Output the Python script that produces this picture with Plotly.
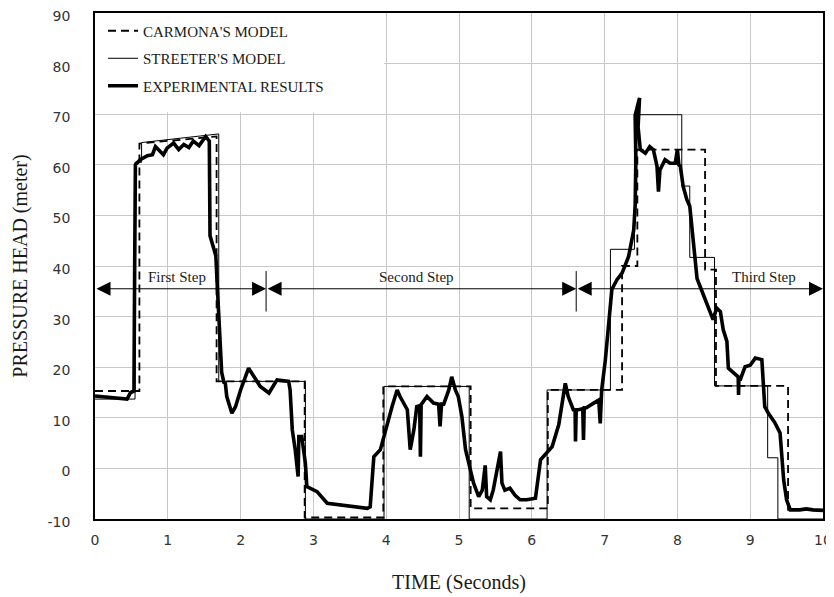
import plotly.graph_objects as go

# ---------------- data ----------------
carmona_t = [0.00, 0.61, 0.61, 1.67, 1.67, 2.88, 2.88, 3.96, 3.96, 5.16, 5.16, 6.22, 6.22,
             7.24, 7.24, 7.45, 7.45, 8.38, 8.38, 8.53, 8.53, 9.52, 9.52, 10.0]
carmona_h = [15.3, 15.3, 64.2, 65.6, 17.2, 17.2, -9.7, -9.7, 16.2, 16.2, -7.9, -7.9, 15.5,
             15.5, 40.0, 40.0, 63.0, 63.0, 39.3, 39.3, 16.3, 16.3, -8.2, -8.2]

streeter_t = [0.00, 0.55, 0.55, 0.64, 0.64, 1.70, 1.70, 2.89, 2.89, 3.97, 3.97, 5.14, 5.14,
              6.21, 6.21, 7.08, 7.08, 7.41, 7.41, 8.06, 8.06, 8.17, 8.17, 8.51, 8.51,
              9.24, 9.24, 9.38, 9.38, 10.0]
streeter_h = [13.7, 13.7, 60.5, 60.5, 64.4, 66.1, 17.2, 17.2, -10.0, -10.0, 16.2, 16.2, -10.0,
              -10.0, 15.5, 15.5, 43.3, 43.3, 69.9, 69.9, 55.8, 55.8, 41.7, 41.7, 16.3,
              16.3, 2.1, 2.1, -10.0, -10.0]

exp_t = [0.00, 0.20, 0.44, 0.49, 0.535, 0.545, 0.555, 0.62, 0.72, 0.79, 0.83, 0.90, 0.94,
         0.99, 1.08, 1.15, 1.22, 1.29, 1.35, 1.43, 1.52, 1.57, 1.58, 1.62, 1.66, 1.68,
         1.70, 1.72, 1.74, 1.77, 1.79, 1.81, 1.88, 1.93, 2.00, 2.11, 2.18, 2.27, 2.39,
         2.50, 2.66, 2.68, 2.71, 2.75, 2.79, 2.80, 2.84, 2.89, 2.91, 3.05, 3.19, 3.37,
         3.60, 3.74, 3.78, 3.80, 3.83, 3.92, 3.99, 4.08, 4.15, 4.19, 4.29, 4.33, 4.38,
         4.42, 4.46, 4.47, 4.48, 4.56, 4.65, 4.72, 4.74, 4.76, 4.79, 4.86, 4.90, 4.95,
         4.99, 5.04, 5.09, 5.15, 5.20, 5.27, 5.32, 5.36, 5.38, 5.43, 5.47, 5.57, 5.59,
         5.63, 5.70, 5.77, 5.84, 5.93, 6.05, 6.12, 6.18, 6.28, 6.37, 6.44, 6.46, 6.50,
         6.57, 6.595, 6.60, 6.61, 6.64, 6.70, 6.71, 6.72, 6.75, 6.85, 6.92, 6.94, 6.96,
         7.01, 7.05, 7.10, 7.17, 7.24, 7.33, 7.40, 7.42, 7.43, 7.42, 7.48, 7.46, 7.49,
         7.56, 7.62, 7.67, 7.72, 7.74, 7.76, 7.83, 7.90, 7.97, 8.00, 8.02, 8.04, 8.08,
         8.13, 8.17, 8.20, 8.24, 8.27, 8.33, 8.43, 8.49, 8.54, 8.59, 8.63, 8.68, 8.70,
         8.77, 8.835, 8.84, 8.845, 8.86, 8.93, 9.00, 9.07, 9.16, 9.18, 9.20, 9.25, 9.34,
         9.41, 9.43, 9.46, 9.50, 9.55, 9.68, 9.77, 9.86, 10.0]
exp_h = [14.3, 14.0, 13.7, 15.0, 15.3, 40.0, 60.0, 61.0, 61.8, 62.0, 63.6, 62.6, 62.0,
         63.3, 64.3, 63.0, 64.0, 63.4, 64.7, 63.8, 65.6, 64.7, 46.0, 44.0, 42.0, 36.0,
         30.0, 24.0, 19.0, 17.0, 16.8, 14.2, 10.9, 12.2, 15.5, 19.8, 18.1, 16.2, 14.9,
         17.5, 17.2, 15.5, 7.6, 3.7, -1.6, 6.3, 6.3, 1.0, -3.6, -4.6, -6.9, -7.2,
         -7.6, -7.9, -7.6, -2.9, 2.3, 3.7, 7.6, 12.2, 15.5, 14.2, 11.6, 3.7, 7.6,
         12.2, 12.4, 2.3, 12.6, 14.2, 12.9, 12.7, 8.3, 12.7, 12.7, 15.5, 18.1, 15.5,
         14.2, 10.2, 3.7, -0.3, -2.9, -5.6, -4.3, 0.6, -5.6, -6.2, -4.3, 3.3, -2.9,
         -4.3, -3.9, -5.3, -6.2, -6.2, -5.9, 1.7, 2.7, 4.3, 8.6, 14.8, 16.8, 14.2,
         11.6, 11.6, 5.3, 11.6, 11.6, 11.8, 5.6, 12.0, 12.0, 12.9, 13.5, 8.9, 15.5,
         21.4, 27.4, 35.4, 37.3, 38.6, 41.9, 47.1, 52.0, 61.0, 69.8, 73.2, 67.5, 63.0,
         62.3, 63.6, 63.0, 59.7, 54.7, 59.0, 61.0, 60.3, 60.3, 63.0, 60.0, 59.7, 55.7,
         53.1, 51.8, 47.8, 41.2, 37.5, 35.3, 31.3, 29.4, 31.7, 31.0, 27.4, 25.1, 19.8,
         18.8, 18.1, 14.5, 18.0, 17.4, 20.1, 20.4, 21.8, 21.5, 16.2, 12.2, 10.9, 9.0,
         7.0, 3.0, -2.3, -6.2, -8.2, -8.2, -8.0, -8.2, -8.3]

# step boundaries (seconds) and labels
step_bounds = [0.0, 2.35, 6.61, 10.0]
step_labels = ["First Step", "Second Step", "Third Step"]
step_label_x = [1.13, 4.41, 9.19]
step_y = 35.5

x_ticks = list(range(0, 11))
y_ticks = list(range(-10, 91, 10))

# ---------------- figure ----------------
serif = "Liberation Serif, Times New Roman, serif"
fig = go.Figure()

fig.add_trace(go.Scatter(x=carmona_t, y=carmona_h, mode="lines", name="CARMONA'S MODEL",
                         legendgroup="a",
                         line=dict(color="black", width=1.8, dash="8px,5px")))
fig.add_trace(go.Scatter(x=streeter_t, y=streeter_h, mode="lines", name="STREETER'S MODEL",
                         legendgroup="b",
                         line=dict(color="black", width=1)))
fig.add_trace(go.Scatter(x=exp_t, y=exp_h, mode="lines", name="EXPERIMENTAL RESULTS",
                         legendgroup="c",
                         line=dict(color="black", width=3.6)))

# white box behind legend (hides the grid there)
fig.add_shape(type="rect", xref="x", yref="y", x0=0, x1=3.97, y0=70.4, y1=90,
              fillcolor="white", line=dict(width=0), layer="between")

# step arrows
for i in range(3):
    fig.add_annotation(x=step_bounds[i + 1], y=step_y, ax=step_bounds[i], ay=step_y,
                       xref="x", yref="y", axref="x", ayref="y", text="",
                       showarrow=True, arrowside="end+start",
                       arrowhead=2, startarrowhead=2, arrowsize=2.8, startarrowsize=2.8,
                       arrowwidth=1, arrowcolor="black", standoff=0, startstandoff=0)
    fig.add_annotation(x=step_label_x[i], y=step_y, xref="x", yref="y",
                       text=step_labels[i], showarrow=False, yanchor="bottom", yshift=2,
                       font=dict(family=serif, size=15, color="#1a1a1a"))
for b in step_bounds[1:3]:
    fig.add_shape(type="line", xref="x", yref="y", x0=b, x1=b, y0=31, y1=39,
                  line=dict(color="black", width=1))

tickfont = dict(family="DejaVu Sans, sans-serif", size=14, color="#333333")
fig.update_xaxes(range=[0, 10], tickvals=x_ticks, ticktext=[str(v) for v in x_ticks],
                 showgrid=True, gridcolor="#c8c8c8", gridwidth=1, automargin=False,
                 showline=True, linecolor="black", linewidth=1.5, mirror=True,
                 zeroline=False, ticks="", ticklabelstandoff=7, tickfont=tickfont,
                 ticklabeloverflow="allow",
                 title=dict(text="TIME (Seconds)", standoff=28,
                            font=dict(family=serif, size=20, color="#1a1a1a")))
fig.update_yaxes(range=[-10, 90], tickvals=y_ticks, ticktext=[str(v) for v in y_ticks],
                 showgrid=True, gridcolor="#c8c8c8", gridwidth=1, automargin=False,
                 showline=True, linecolor="black", linewidth=1.5, mirror=True,
                 zeroline=False, ticks="", ticklabelstandoff=20, tickfont=tickfont,
                 ticklabeloverflow="allow", ticklabelshift=3,
                 title=dict(text="PRESSURE HEAD (meter)", standoff=15,
                            font=dict(family=serif, size=20, color="#1a1a1a")))

# the page body adds an 8px offset, so the margins are compensated here
fig.update_layout(
    width=834, height=597,
    margin=dict(l=87, r=19, t=5, b=86),
    paper_bgcolor="white", plot_bgcolor="white",
    showlegend=True,
    legend=dict(x=0.011, y=0.997, xanchor="left", yanchor="top",
                bgcolor="rgba(0,0,0,0)", traceorder="grouped", tracegroupgap=5,
                font=dict(family=serif, size=15, color="#1a1a1a")),
)

fig.write_html("out.html")
